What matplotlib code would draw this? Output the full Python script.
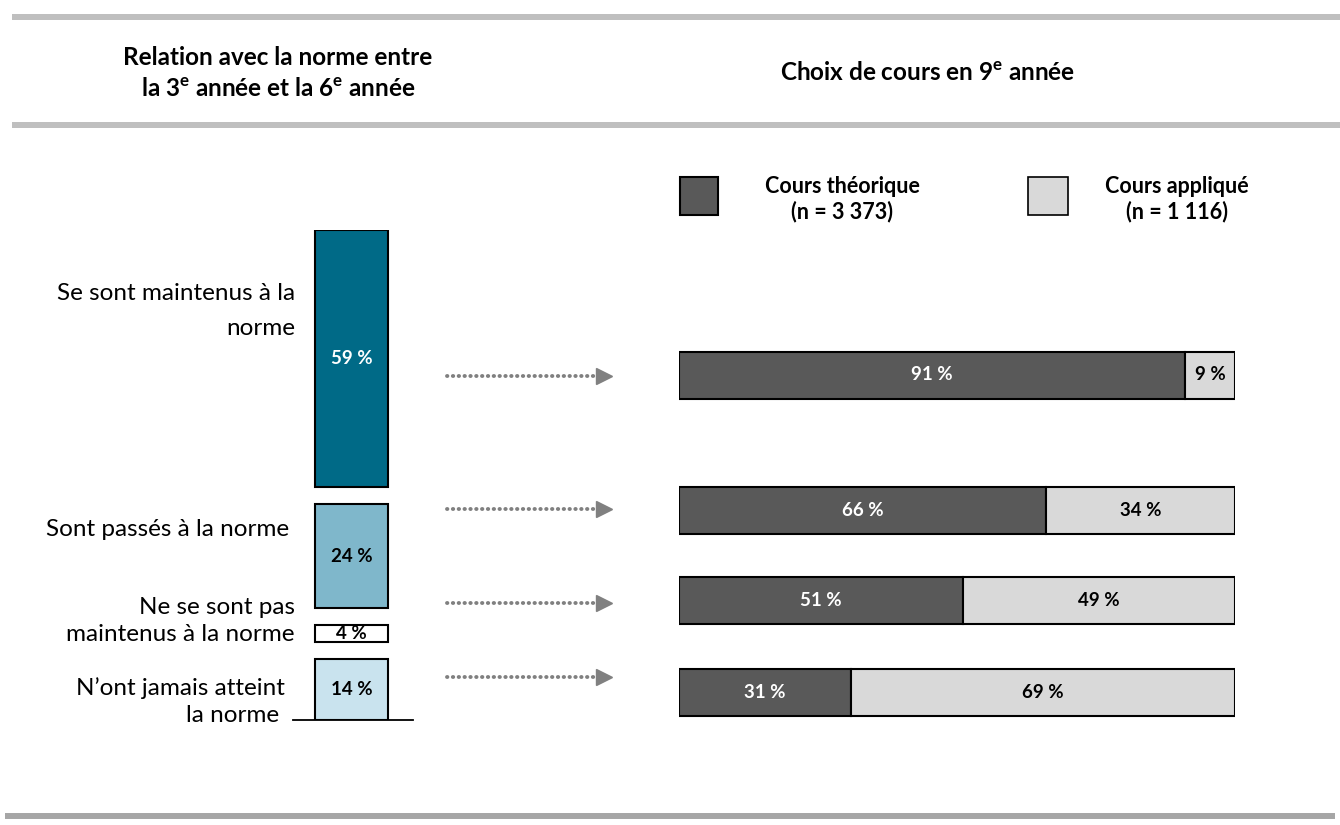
import matplotlib.pyplot as plt

plt.rcParams['font.family'] = ['Lato', 'DejaVu Sans']
plt.rcParams['mathtext.fontset'] = 'custom'
plt.rcParams['mathtext.rm'] = 'Lato'
plt.rcParams['mathtext.bf'] = 'Lato:bold'
plt.rcParams['mathtext.default'] = 'bf'

# Données
groupes = ['Se sont maintenus à la\nnorme', 'Sont passés à la norme ',
           'Ne se sont pas\nmaintenus à la norme', 'N\u2019ont jamais atteint\nla norme ']
part_groupe = [59, 24, 4, 14]
couleurs_groupe = ['#006a87', '#7fb7cb', '#ffffff', '#c9e3ee']
texte_groupe = ['white', 'black', 'black', 'black']

theorique = [91, 66, 51, 31]
applique = [9, 34, 49, 69]
legende = ['Cours théorique\n(n = 3 373)', 'Cours appliqué\n(n = 1 116)']

W, H = 1340, 825
fig = plt.figure(figsize=(W / 100, H / 100), dpi=100)

# calque en pixels pour le décor
fond = fig.add_axes([0, 0, 1, 1])
fond.set_xlim(0, W)
fond.set_ylim(H, 0)
fond.axis('off')

fond.plot([12, W], [17, 17], color='#bfbfbf', lw=4.3, solid_capstyle='butt')
fond.plot([12, W], [125, 125], color='#bfbfbf', lw=4.3, solid_capstyle='butt')
fond.plot([5, 1335], [816, 816], color='#a6a6a6', lw=4.3, solid_capstyle='butt')

fond.text(278, 73, 'Relation avec la norme entre\nla 3$^{e}$ année et la 6$^{e}$ année',
          ha='center', va='center', fontsize=17.5, fontweight='bold', linespacing=1.4)
fond.text(928, 73, 'Choix de cours en 9$^{e}$ année', ha='center', va='center',
          fontsize=17.5, fontweight='bold')

# légende
fond.add_patch(plt.Rectangle((680, 177), 38, 38, facecolor='#595959', edgecolor='black', lw=1.5))
fond.add_patch(plt.Rectangle((1028, 177), 40, 38, facecolor='#d9d9d9', edgecolor='black', lw=1.2))
fond.text(842, 199, legende[0], ha='center', va='center', fontsize=15.5, fontweight='bold', linespacing=1.2)
fond.text(1177, 199, legende[1], ha='center', va='center', fontsize=15.5, fontweight='bold', linespacing=1.2)

# libellés des groupes
lab_y = [311, 530, 621, 702]
lab_x = [295, 295, 295, 285]
lab_sp = [1.8, 1.2, 1.4, 1.35]
for t, x, y, sp in zip(groupes, lab_x, lab_y, lab_sp):
    fond.text(x, y, t, ha='right', va='center', fontsize=17.5, linespacing=sp)
fond.plot([293, 413], [720, 720], color='black', lw=1.3)

# flèches pointillées
fleches_y = [376, 509, 603, 677]
for y in fleches_y:
    fond.plot([447, 598], [y, y], color='#808080', lw=2.8, dashes=(0.1, 1.4),
              dash_capstyle='round')
    fond.plot([604], [y], marker='>', markersize=12, color='#808080')

# colonne de gauche (empilée avec espaces)
gap = 3.8
ax_l = fig.add_axes([300 / W, (H - 720) / H, 113 / W, 490 / H])
ax_l.set_xlim(0, 113)
ax_l.set_ylim(0, 112.4)
ax_l.axis('off')
bas = 0
for v, c, tc in reversed(list(zip(part_groupe, couleurs_groupe, texte_groupe))):
    ax_l.bar(51.5, v, bottom=bas, width=73, color=c, edgecolor='black', lw=1.5)
    ax_l.text(51.5, bas + v / 2, f'{v} %', ha='center', va='center',
              fontsize=13.5, fontweight='bold', color=tc)
    bas += v + gap

# barres horizontales de droite
rangs_y = [375, 510, 600, 692]
ax_r = fig.add_axes([679 / W, 0, 556 / W, 1])
ax_r.set_xlim(0, 100)
ax_r.set_ylim(H, 0)
ax_r.axis('off')
ax_r.barh(rangs_y, theorique, height=47, color='#595959', edgecolor='black', lw=1.5)
ax_r.barh(rangs_y, applique, left=theorique, height=47, color='#d9d9d9',
          edgecolor='black', lw=1.5)
for y, a, b in zip(rangs_y, theorique, applique):
    ax_r.text(a / 2, y, f'{a} %', ha='center', va='center', fontsize=13.5,
              fontweight='bold', color='white')
    ax_r.text(a + b / 2, y, f'{b} %', ha='center', va='center', fontsize=13.5,
              fontweight='bold', color='black')

fig.savefig('out.png', dpi=100)
